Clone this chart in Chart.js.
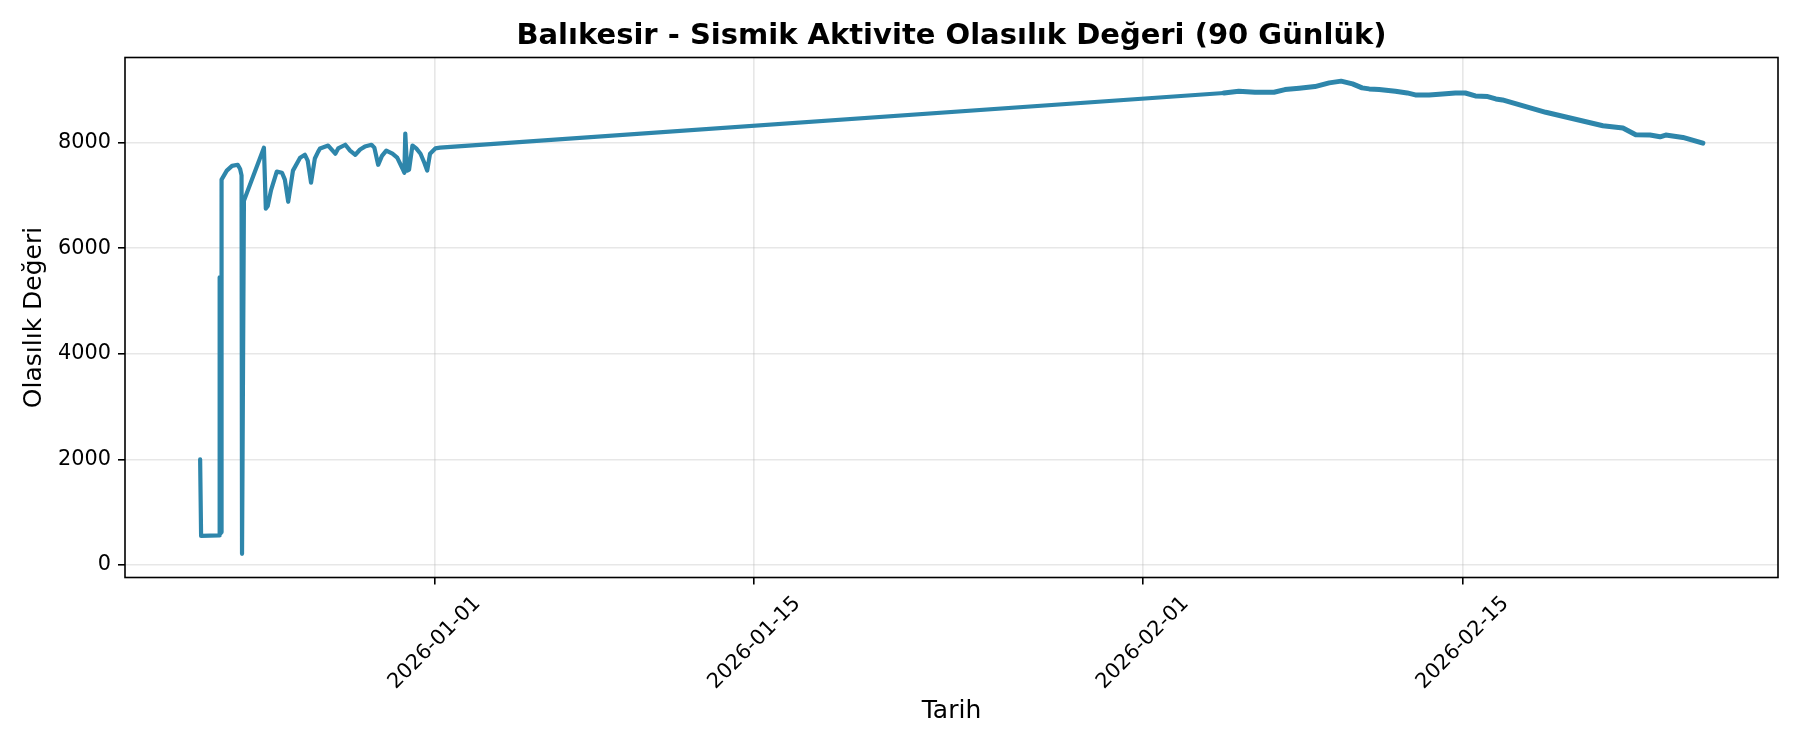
<!DOCTYPE html>
<html>
<head>
<meta charset="utf-8">
<script src="https://cdn.jsdelivr.net/npm/chart.js@4"></script>
<style>
  html, body { margin: 0; padding: 0; background: #fff; }
  canvas { display: block; }
</style>
</head>
<body>
<canvas id="chart" width="1800" height="750"></canvas>
<script>
// readings
const times = [
    '2025-12-21 18:00', '2025-12-21 19:00', '2025-12-22 14:00', '2025-12-22 14:30',
    '2025-12-22 15:00', '2025-12-22 15:30', '2025-12-22 16:00', '2025-12-22 16:30',
    '2025-12-22 22:00', '2025-12-23 03:30', '2025-12-23 09:30', '2025-12-23 12:00',
    '2025-12-23 13:30', '2025-12-23 14:00', '2025-12-23 16:00', '2025-12-24 13:00',
    '2025-12-24 15:00', '2025-12-24 17:00', '2025-12-24 20:30', '2025-12-25 02:30',
    '2025-12-25 08:00', '2025-12-25 11:00', '2025-12-25 14:30', '2025-12-25 19:30',
    '2025-12-26 03:00', '2025-12-26 08:00', '2025-12-26 11:00', '2025-12-26 14:30',
    '2025-12-26 18:30', '2025-12-26 22:00', '2025-12-27 00:00', '2025-12-27 08:30',
    '2025-12-27 16:00', '2025-12-27 19:00', '2025-12-28 02:30', '2025-12-28 07:30',
    '2025-12-28 13:00', '2025-12-28 18:00', '2025-12-28 23:00', '2025-12-29 06:00',
    '2025-12-29 09:00', '2025-12-29 13:00', '2025-12-29 17:00', '2025-12-29 21:30',
    '2025-12-30 04:00', '2025-12-30 09:00', '2025-12-30 14:30', '2025-12-30 16:30',
    '2025-12-30 17:30', '2025-12-30 19:30', '2025-12-30 21:30', '2025-12-31 01:00',
    '2025-12-31 05:00', '2025-12-31 09:30', '2025-12-31 13:30', '2025-12-31 16:30',
    '2025-12-31 19:30', '2026-01-01 01:00', '2026-01-01 06:00',
    '2026-02-04 13:30', '2026-02-05 05:00', '2026-02-05 22:00', '2026-02-06 18:00',
    '2026-02-07 05:30', '2026-02-07 20:30', '2026-02-08 13:00', '2026-02-09 04:00',
    '2026-02-09 16:30', '2026-02-10 04:30', '2026-02-10 14:30', '2026-02-10 22:00',
    '2026-02-11 08:30', '2026-02-12 01:30', '2026-02-12 14:00', '2026-02-12 22:30',
    '2026-02-13 13:00', '2026-02-14 03:00', '2026-02-14 16:30', '2026-02-15 03:00',
    '2026-02-15 13:30', '2026-02-16 02:30', '2026-02-16 11:00', '2026-02-16 18:00',
    '2026-02-18 15:30', '2026-02-21 03:30', '2026-02-22 00:30', '2026-02-22 14:00',
    '2026-02-23 05:00', '2026-02-23 15:30', '2026-02-23 21:30', '2026-02-24 15:30',
    '2026-02-25 12:30'
];
const values = [
    2000, 550, 560, 5450,
    5300, 600, 620, 7300,
    7470, 7560, 7580, 7500,
    7380, 210, 6900, 7905,
    6750, 6800, 7100, 7450,
    7430, 7300, 6880, 7470,
    7715, 7770, 7660, 7240,
    7700, 7830, 7890, 7945,
    7790, 7890, 7960, 7850,
    7770, 7870, 7925, 7960,
    7905, 7580, 7750, 7850,
    7790, 7715, 7510, 7430,
    8170, 7470, 7490, 7945,
    7890, 7790, 7620, 7470,
    7790, 7890, 7905,
    8940, 8974, 8955, 8955,
    9005, 9031, 9062, 9132,
    9165, 9113, 9037, 9018,
    9005, 8974, 8942, 8904,
    8904, 8923, 8942, 8940,
    8885, 8872, 8828, 8809,
    8575, 8320, 8276, 8148,
    8143, 8110, 8143, 8099,
    7990
];
const xTickDates = ['2026-01-01', '2026-01-15', '2026-02-01', '2026-02-15'];
const yTicks = [0, 2000, 4000, 6000, 8000];

const FONT = 'DejaVu Sans';
const toMs = s => new Date(s.replace(' ', 'T') + (s.length > 10 ? ':00Z' : 'T00:00:00Z')).getTime();

const xs = times.map(toMs);
const xTicks = xTickDates.map(toMs);
const denseFrom = toMs('2026-02-01'); // the later readings are dense, the line looks heavier there

// matplotlib style 5% margins around the data
const xLo = Math.min(...xs), xHi = Math.max(...xs);
const yLo = Math.min(...values), yHi = Math.max(...values);
const xPad = (xHi - xLo) * 0.05, yPad = (yHi - yLo) * 0.05;

const framePlugin = {
    id: 'frame',
    afterDraw(chart) {
        const { ctx, chartArea: a } = chart;
        ctx.save();
        ctx.strokeStyle = '#000';
        ctx.lineWidth = 1.6;
        ctx.strokeRect(a.left, a.top, a.right - a.left, a.bottom - a.top);
        ctx.restore();
    }
};

Chart.defaults.color = '#000';
Chart.defaults.font.family = FONT;

new Chart(document.getElementById('chart'), {
    type: 'line',
    data: {
        datasets: [{
            data: xs.map((x, i) => ({ x: x, y: values[i] })),
            borderColor: '#2E86AB',
            borderWidth: 4.2,
            borderJoinStyle: 'round',
            borderCapStyle: 'round',
            segment: {
                borderWidth: c => c.p0.parsed.x >= denseFrom ? 5 : 4.2
            },
            pointRadius: 0,
            tension: 0,
            fill: false
        }]
    },
    options: {
        responsive: false,
        devicePixelRatio: 1,
        animation: false,
        layout: { padding: { left: 0, right: 22, top: 0, bottom: 0 } },
        plugins: {
            legend: { display: false },
            tooltip: { enabled: false },
            title: {
                display: true,
                text: 'Balıkesir - Sismik Aktivite Olasılık Değeri (90 Günlük)',
                fullSize: false,
                color: '#000',
                font: { family: FONT, size: 29, weight: 'bold' },
                padding: { top: 19, bottom: 3.7 }
            }
        },
        scales: {
            x: {
                type: 'linear',
                min: xLo - xPad,
                max: xHi + xPad,
                afterBuildTicks: s => { s.ticks = xTicks.map(v => ({ value: v })); },
                afterFit: s => { s.height = 172.5; },
                ticks: {
                    autoSkip: false,
                    minRotation: 45,
                    maxRotation: 45,
                    labelOffset: 43,
                    padding: 7,
                    font: { family: FONT, size: 20.8 },
                    callback: (v, i) => xTickDates[i]
                },
                grid: { color: 'rgba(176,176,176,0.3)', lineWidth: 1.6, tickColor: '#000', tickLength: 7, tickWidth: 1.6 },
                border: { display: false },
                title: {
                    display: true,
                    text: 'Tarih',
                    font: { family: FONT, size: 25 },
                    padding: { top: 0, bottom: 24 }
                }
            },
            y: {
                type: 'linear',
                min: yLo - yPad,
                max: yHi + yPad,
                afterBuildTicks: s => { s.ticks = yTicks.map(v => ({ value: v })); },
                afterFit: s => { s.width = 125; },
                ticks: {
                    padding: 7,
                    font: { family: FONT, size: 20.8 },
                    callback: v => String(v)
                },
                grid: { color: 'rgba(176,176,176,0.3)', lineWidth: 1.6, tickColor: '#000', tickLength: 7, tickWidth: 1.6 },
                border: { display: false },
                title: {
                    display: true,
                    text: 'Olasılık Değeri',
                    font: { family: FONT, size: 25 },
                    padding: { top: 19.5, bottom: 0 }
                }
            }
        }
    },
    plugins: [framePlugin]
});
</script>
</body>
</html>
